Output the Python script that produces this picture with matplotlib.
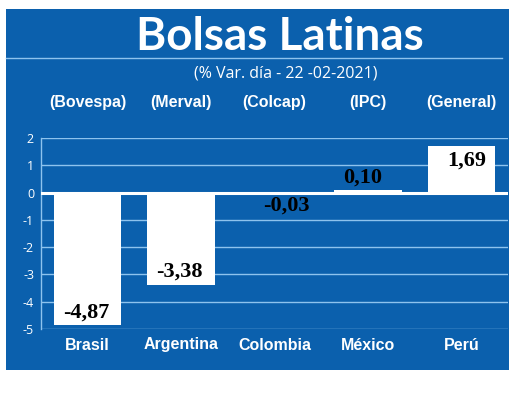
import matplotlib
matplotlib.use('Agg')
import matplotlib.pyplot as plt
from matplotlib.patches import Rectangle
from matplotlib.lines import Line2D

# data
paises = ['Brasil', 'Argentina', 'Colombia', 'México', 'Perú']
indices = ['(Bovespa)', '(Merval)', '(Colcap)', '(IPC)', '(General)']
variacion = [-4.87, -3.38, -0.03, 0.10, 1.69]
yticks = [2, 1, 0, -1, -2, -3, -4, -5]

azul = '#0b60ad'
celeste = '#8ec3ee'
narrow = ['Liberation Sans Narrow', 'Liberation Sans', 'DejaVu Sans']

W, H = 520, 399
fig = plt.figure(figsize=(W / 100, H / 100), dpi=100)
fig.patch.set_facecolor('white')

def fx(px):
    return px / W

def fy(py):
    return 1 - py / H

# blue panel and rule under the title
fig.patches.append(Rectangle((fx(6), fy(370)), fx(503), 361 / H, transform=fig.transFigure,
                             facecolor=azul, edgecolor='none', zorder=-5))
fig.lines.append(Line2D([fx(6), fx(502)], [fy(58), fy(58)], transform=fig.transFigure,
                        color=celeste, lw=1))

fig.text(fx(280), fy(37), 'Bolsas Latinas', color='white', fontsize=33, fontweight='bold',
         family=['Lato', 'DejaVu Sans'], ha='center', va='center')
fig.text(fx(286), fy(73), '(% Var. día - 22 -02-2021)', color='white', fontsize=11.5,
         family=['Open Sans', 'DejaVu Sans'], ha='center', va='center')

ax = fig.add_axes([fx(41), fy(329), fx(508 - 41), (329 - 138) / H])
ax.set_facecolor('none')
x = list(range(len(paises)))
ax.bar(x, variacion, width=0.72, color='white', zorder=3)
ax.set_xlim(-0.5, 4.5)
ax.set_ylim(-5, 2)

for t in yticks:
    if t == 0:
        ax.axhline(t, color='white', lw=2.2, zorder=4)
    else:
        ax.axhline(t, color=celeste, lw=1, zorder=1)

for s in ['top', 'right', 'bottom']:
    ax.spines[s].set_visible(False)
ax.spines['left'].set_color(celeste)
ax.spines['left'].set_linewidth(1)
ax.set_yticks(yticks)
ax.set_yticklabels([str(t) for t in yticks], color='white', fontsize=9,
                   family=['Open Sans', 'DejaVu Sans'])
ax.tick_params(axis='y', length=0, pad=5)
ax.set_xticks([])

# value labels
for i, v in enumerate(variacion):
    txt = f'{v:.2f}'.replace('.', ',')
    if v < -1:
        ax.text(i - 0.02, v + 0.1, txt, ha='center', va='bottom', zorder=5)
    elif v < 0:
        ax.text(i + 0.13, -0.12, txt, ha='center', va='top', zorder=5)
    elif v < 1:
        ax.text(i - 0.06, v + 0.08, txt, ha='center', va='bottom', zorder=5)
    else:
        ax.text(i + 0.06, v - 0.16, txt, ha='center', va='top', zorder=5)
for t in ax.texts:
    t.set_fontsize(16)
    t.set_fontweight('bold')
    t.set_family(['Liberation Serif', 'DejaVu Serif'])
    t.set_color('black')

for i, (p, idx) in enumerate(zip(paises, indices)):
    xc = ax.transData.transform((i, 0))[0]
    fig.text(xc / W, fy(345), p, color='white', fontsize=11.5, fontweight='bold',
             family=narrow, ha='center', va='center')
    fig.text(xc / W, fy(102), idx, color='white', fontsize=11.5, fontweight='bold',
             family=narrow, ha='center', va='center')

fig.savefig('out.png', dpi=100)
